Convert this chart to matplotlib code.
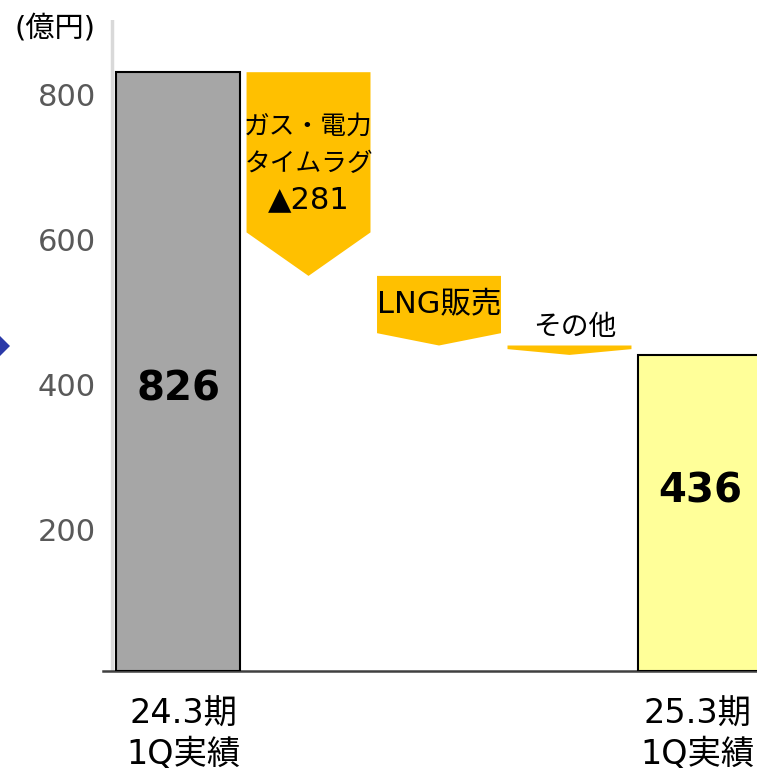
import matplotlib.pyplot as plt
import matplotlib.patches as patches
import matplotlib.transforms as mtransforms
import numpy as np

# ------------------------------------------------------
# Data (億円)
start_label = '24.3期\n1Q実績'
end_label = '25.3期\n1Q実績'
start_value = 826
end_value = 436
step_names = ['ガス・電力\nタイムラグ\n▲281', 'LNG販売', 'その他']
step_deltas = [-281, -96, -13]
yticks = [200, 400, 600, 800]

# style / placement
tip_depth = [60, 17, 8]
step_label_y = [700, 507, 474]
step_label_size = [18.5, 22, 20]
jp = ['DejaVu Sans', 'Noto Sans CJK JP']
W = 0.95

def has_cjk(s):
	return any(ord(c) > 0x2FFF for c in s)

fig = plt.figure(figsize=(7.57, 7.74), dpi=100)
ax = fig.add_axes([103/757, 103/774, 654/757, 651/774])
ax.set_xlim(-0.575, 4.437)
ax.set_ylim(0, 898)

# start / end bars
ax.bar(0, start_value, width=W, color='#a6a6a6', edgecolor='black', linewidth=1.5, zorder=3)
ax.bar(len(step_deltas)+1, end_value, width=W, color='#ffff99', edgecolor='black', linewidth=1.5, zorder=3)
ax.text(0, 388, str(start_value), ha='center', va='center', fontsize=29, fontweight='bold', zorder=4)
ax.text(len(step_deltas)+1, 247, str(end_value), ha='center', va='center', fontsize=29, fontweight='bold', zorder=4)

# downward arrows
level = start_value
for i, d in enumerate(step_deltas):
	x = i + 1
	top = level
	bot = level + d
	l, r = x - W/2, x + W/2
	pts = [(l, top), (r, top), (r, bot + tip_depth[i]), (x, bot), (l, bot + tip_depth[i])]
	ax.add_patch(patches.Polygon(pts, closed=True, facecolor='#ffc000', edgecolor='none', zorder=3))
	lines = step_names[i].split('\n')
	n = len(lines)
	for j, line in enumerate(lines):
		fs = step_label_size[i] if has_cjk(line) else 22
		ax.annotate(line, (x + (0.04 if i == 2 else 0), step_label_y[i]),
			xytext=(0, ((n-1)/2 - j)*26.3), textcoords='offset points',
			ha='center', va='center', fontsize=fs, family=jp, zorder=4)
	level = bot

# axes styling
for s in ['top', 'right', 'left']:
	ax.spines[s].set_visible(False)
ax.spines['bottom'].set_color('#404040')
ax.spines['bottom'].set_linewidth(1.8)
ax.axvline(-0.506, color='#d9d9d9', lw=2.5, zorder=1)
ax.set_yticks(yticks)
ax.set_yticklabels([str(v) for v in yticks], fontsize=22, color='#595959')
ax.tick_params(axis='y', length=0, pad=5)
shift = mtransforms.ScaledTranslation(0, -0.03, fig.dpi_scale_trans)
for t in ax.get_yticklabels():
	t.set_transform(t.get_transform() + shift)
ax.set_xticks([0.04, len(step_deltas)+0.98])
ax.set_xticklabels([start_label, end_label], fontsize=24, family=jp, linespacing=1.3)
ax.tick_params(axis='x', length=0, pad=19)

fig.text(55/757, 1 - 28/774, '(億円)', ha='center', va='center', fontsize=21, family=jp)

# stray marker at left edge
dia = np.array([(-14, 346), (-2, 334), (10, 346), (-2, 358)], dtype=float)
fig.add_artist(patches.Polygon(np.c_[dia[:, 0]/757, 1 - dia[:, 1]/774], closed=True,
	facecolor='#2b3aa8', edgecolor='none', transform=fig.transFigure))

fig.savefig('out.png', dpi=100)
